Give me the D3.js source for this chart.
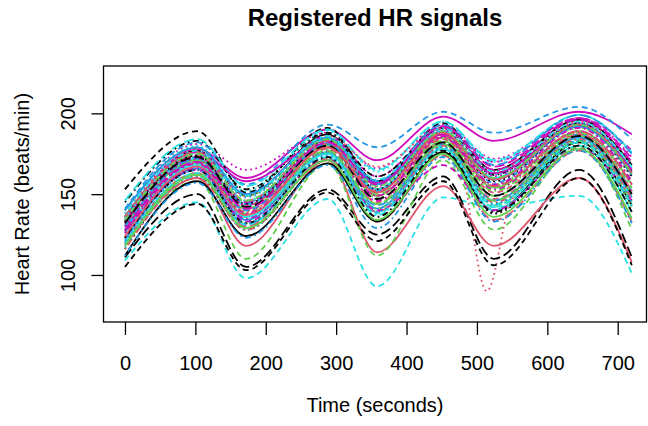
<!DOCTYPE html>
<html>
<head>
<meta charset="utf-8">
<script src="https://cdn.jsdelivr.net/npm/d3@7"></script>
<style>
  html, body { margin: 0; padding: 0; background: #fff; }
  svg { display: block; font-family: "Liberation Sans", Arial, sans-serif; }
</style>
</head>
<body>
<div id="chart"></div>
<script>
// knot times (seconds) shared by the registered curves
const times = [0, 103, 172, 288, 358, 452, 524, 645, 720];

// heart rate at each knot, one row per subject (row 7 has its own times)
const hr = [
  [136, 177, 149, 187, 158, 191, 165, 196, 168],
  [131, 171, 140, 178, 145, 182, 147, 185, 149],
  [123, 166, 136, 178, 148, 187, 156, 191, 160],
  [134, 173, 145, 183, 152, 189, 157, 192, 162],
  [127, 169, 136, 176, 141, 180, 143, 183, 143],
  [135, 178, 160, 190, 171, 198, 183, 201, 187],
  [153, 189, 151, 191, 157, 194, 163, 196, 168],
  null,
  [140, 179, 149, 184, 153, 187, 155, 189, 157],
  [119, 163, 131, 175, 143, 182, 149, 187, 152],
  [130, 172, 143, 182, 153, 189, 160, 194, 166],
  [132, 176, 150, 186, 161, 192, 170, 197, 177],
  [116, 161, 128, 171, 134, 176, 138, 180, 139],
  [126, 169, 139, 181, 152, 187, 155, 188, 151],
  [136, 175, 145, 181, 150, 183, 149, 186, 150],
  [122, 166, 134, 176, 141, 181, 146, 185, 148],
  [109, 145, 98, 147, 93, 148, 142, 149, 101],
  [140, 181, 165, 188, 166, 193, 172, 197, 173],
  [145, 183, 153, 188, 161, 191, 162, 194, 164],
  [120, 163, 130, 171, 133, 174, 134, 177, 133],
  [130, 171, 141, 180, 149, 185, 154, 189, 156],
  [141, 182, 156, 193, 179, 201, 188, 204, 184],
  [140, 180, 152, 189, 164, 195, 170, 199, 175],
  [123, 166, 135, 177, 146, 185, 153, 189, 156],
  [111, 150, 105, 153, 125, 161, 110, 165, 111],
  [118, 160, 118, 171, 114, 155, 118, 160, 108],
  [120, 158, 110, 169, 112, 171, 128, 179, 128],
  [136, 176, 148, 185, 157, 190, 162, 194, 165],
  [117, 161, 128, 172, 137, 179, 144, 184, 147],
  [133, 174, 145, 184, 157, 191, 165, 196, 170],
  [112, 158, 124, 169, 133, 176, 140, 182, 143],
  [133, 174, 143, 181, 149, 184, 151, 187, 152],
  [126, 169, 136, 176, 141, 179, 143, 182, 142],
  [112, 157, 123, 168, 129, 173, 133, 177, 132],
  [146, 184, 155, 190, 165, 195, 171, 199, 176],
  [134, 176, 158, 183, 157, 187, 163, 192, 165],
  [105, 144, 103, 151, 121, 158, 106, 160, 106],
  [138, 178, 149, 186, 167, 191, 164, 195, 168],
  [120, 163, 132, 175, 144, 183, 152, 188, 154],
  [130, 172, 144, 184, 158, 193, 168, 199, 175],
  [126, 168, 136, 175, 139, 178, 140, 180, 139],
  [127, 165, 133, 172, 140, 168, 140, 178, 146],
  [133, 174, 144, 183, 153, 188, 158, 192, 161],
  [116, 160, 128, 172, 139, 180, 145, 184, 147],
  [128, 170, 138, 177, 144, 181, 146, 183, 145],
  [140, 179, 150, 185, 156, 189, 159, 192, 162],
  [120, 163, 131, 173, 138, 178, 142, 182, 143],
  [130, 172, 143, 182, 155, 189, 161, 194, 165],
  [123, 165, 132, 173, 136, 177, 139, 180, 139],
  [136, 176, 146, 183, 152, 186, 155, 189, 156],
  [118, 162, 129, 171, 134, 175, 136, 178, 135],
  [128, 170, 140, 181, 152, 188, 159, 193, 163],
  [135, 175, 146, 184, 155, 189, 160, 193, 163],
  [126, 169, 138, 179, 149, 186, 156, 191, 158],
  [132, 173, 142, 180, 147, 182, 149, 186, 150],
  [124, 167, 137, 179, 151, 188, 159, 193, 163],
  [134, 175, 146, 184, 155, 189, 160, 193, 163],
  [121, 165, 132, 174, 139, 179, 144, 183, 145],
  [138, 177, 149, 186, 159, 191, 164, 195, 167],
  [128, 170, 141, 182, 156, 192, 167, 197, 172]
];

// subject 7: sharp drop near t = 514
const dropTimes = [0, 103, 172, 288, 358, 452, 472, 514, 548, 645, 720];
const dropValues = [126, 170, 140, 181, 154, 178, 174, 90, 145, 186, 162];

const xTicks = [0, 100, 200, 300, 400, 500, 600, 700];
const yTicks = [100, 150, 200];

// R default palette (col = 1:6) and line types (lty = 1:5)
const palette = ['#000000', '#DF536B', '#61D04F', '#2297E6', '#28E2E5', '#CD0BBC'];
const dashes = [null, '6,4', '1.8,3.4', '1.8,3.4,6,3.4', '10,4'];

const width = 648, height = 426;
const box = { left: 103.5, right: 646.5, top: 66, bottom: 322 };

const svg = d3.select('#chart').append('svg')
  .attr('width', width)
  .attr('height', height);

const x = d3.scaleLinear().domain([-30.5, 740.9]).range([box.left, box.right]);
const y = d3.scaleLinear().domain([70.9, 229.3]).range([box.bottom, box.top]);

const series = hr.map((v, i) => {
  const t = i === 7 ? dropTimes : times;
  const vals = i === 7 ? dropValues : v;
  return t.map((tt, k) => [tt, vals[k]]);
});

const line = d3.line()
  .x(d => x(d[0]))
  .y(d => y(d[1]))
  .curve(d3.curveMonotoneX);

svg.append('g')
  .selectAll('path')
  .data(series)
  .enter()
  .append('path')
  .attr('d', line)
  .attr('fill', 'none')
  .attr('stroke', (d, i) => palette[i % 6])
  .attr('stroke-width', 1.8)
  .attr('stroke-dasharray', (d, i) => dashes[i % 5]);

// plot frame
svg.append('rect')
  .attr('x', box.left)
  .attr('y', box.top)
  .attr('width', box.right - box.left)
  .attr('height', box.bottom - box.top)
  .attr('fill', 'none')
  .attr('stroke', '#000')
  .attr('stroke-width', 1.3);

// x axis
const xAxis = svg.append('g')
  .attr('transform', `translate(0, ${box.bottom})`)
  .call(d3.axisBottom(x).tickValues(xTicks).tickSize(13).tickPadding(21).tickSizeOuter(0));
xAxis.select('.domain').remove();
xAxis.selectAll('line').attr('stroke', '#000').attr('stroke-width', 1.3);
xAxis.selectAll('text')
  .attr('fill', '#000')
  .attr('font-size', '20px')
  .attr('font-family', '"Liberation Sans", Arial, sans-serif');

// y axis with R style vertical labels
const yAxis = svg.append('g')
  .attr('transform', `translate(${box.left}, 0)`)
  .call(d3.axisLeft(y).tickValues(yTicks).tickSize(12).tickFormat(d3.format('d')).tickSizeOuter(0));
yAxis.select('.domain').remove();
yAxis.selectAll('line').attr('stroke', '#000').attr('stroke-width', 1.3);
yAxis.selectAll('text')
  .attr('fill', '#000')
  .attr('font-size', '20px')
  .attr('font-family', '"Liberation Sans", Arial, sans-serif')
  .attr('text-anchor', 'middle')
  .attr('dy', null)
  .attr('x', null)
  .attr('transform', 'translate(-28.5, 0) rotate(-90)');

svg.append('text')
  .attr('x', (box.left + box.right) / 2)
  .attr('y', 26)
  .attr('text-anchor', 'middle')
  .attr('font-size', '24px')
  .attr('font-weight', 'bold')
  .text('Registered HR signals');

svg.append('text')
  .attr('x', (box.left + box.right) / 2)
  .attr('y', 412)
  .attr('text-anchor', 'middle')
  .attr('font-size', '20px')
  .text('Time (seconds)');

svg.append('text')
  .attr('transform', `translate(28.5, ${(box.top + box.bottom) / 2}) rotate(-90)`)
  .attr('text-anchor', 'middle')
  .attr('font-size', '20px')
  .text('Heart Rate (beats/min)');
</script>
</body>
</html>
